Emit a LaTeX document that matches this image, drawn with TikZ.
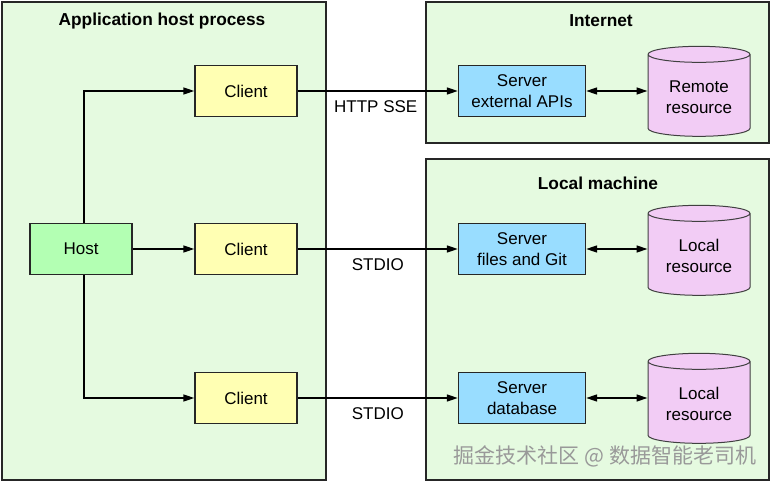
\documentclass[tikz,border=0pt]{standalone}
\usepackage{fontspec}
\setmainfont{Liberation Sans}
\newfontfamily\cjk{Noto Sans CJK SC}
\usepackage{xcolor}
\usetikzlibrary{arrows.meta, shapes.geometric}

\definecolor{areagreen}{HTML}{E5FAE0}
\definecolor{hostgreen}{HTML}{B3FFB3}
\definecolor{clientyellow}{HTML}{FFFFB3}
\definecolor{serverblue}{HTML}{99DDFF}
\definecolor{resourcepink}{HTML}{F2CCF5}

\begin{document}
\begin{tikzpicture}[x=1bp, y=-1bp, line width=1.4bp,
    font=\fontsize{17bp}{21bp}\selectfont,
    area/.style={draw=black!85, fill=areagreen},
    title/.style={font=\fontsize{17.3bp}{21bp}\selectfont\bfseries},
    box/.style={draw=black!85, minimum width=102bp, minimum height=51bp, align=center},
    srv/.style={box, fill=serverblue, minimum width=127bp},
    res/.style={cylinder, shape border rotate=90, aspect=0.22, draw=black!75,
      fill=resourcepink, line width=1bp, minimum width=102bp, minimum height=90bp, align=center},
    conn/.style={-{Triangle[length=11bp, width=7bp]}},
    both/.style={{Triangle[length=11bp, width=7bp]}-{Triangle[length=11bp, width=7bp]}}]
  \useasboundingbox (0,0) rectangle (771,483);

  % containers
  \draw[area] (2,2) rectangle (326,480);
  \draw[area] (426,2) rectangle (769,143);
  \draw[area] (426,159) rectangle (769,480);
  \node[title] (apptitle) at (162,21) {Application host process};
  \node[title] (nettitle) at (601,21) {Internet};
  \node[title] (loctitle) at (598,183) {Local machine};

  % host side
  \node[box, fill=hostgreen] (host) at (81,249) {Host};
  \node[box, fill=clientyellow] (cla) at (246,91) {Client};
  \node[box, fill=clientyellow] (clb) at (246,249) {Client};
  \node[box, fill=clientyellow] (clc) at (246,398) {Client};

  % servers
  \node[srv] (srva) at (522,91) {Server\\external APIs};
  \node[srv] (srvb) at (522,249) {Server\\files and Git};
  \node[srv] (srvc) at (522,398) {Server\\database};

  % resources
  \node[res] (resa) at (699,97) {Remote\\resource};
  \node[res] (resb) at (699,256) {Local\\resource};
  \node[res] (resc) at (699,404) {Local\\resource};

  \draw[conn] ([xshift=3bp]host.north) |- (cla);
  \draw[conn] (host) -- (clb);
  \draw[conn] ([xshift=3bp]host.south) |- (clc);

  \draw[conn] (cla) -- node[below=6bp, xshift=-2bp] (lbla) {HTTP SSE} (srva);
  \draw[conn] (clb) -- node[below=6bp] (lblb) {STDIO} (srvb);
  \draw[conn] (clc) -- node[below=6bp] (lblc) {STDIO} (srvc);

  \draw[both] (srva) -- (srva -| resa.west);
  \draw[both] (srvb) -- (srvb -| resb.west);
  \draw[both] (srvc) -- (srvc -| resc.west);

  \node[text=black!40, font=\cjk\fontsize{21bp}{25bp}\selectfont] (mark) at (605,456) {掘金技术社区 @ 数据智能老司机};
\end{tikzpicture}
\end{document}
